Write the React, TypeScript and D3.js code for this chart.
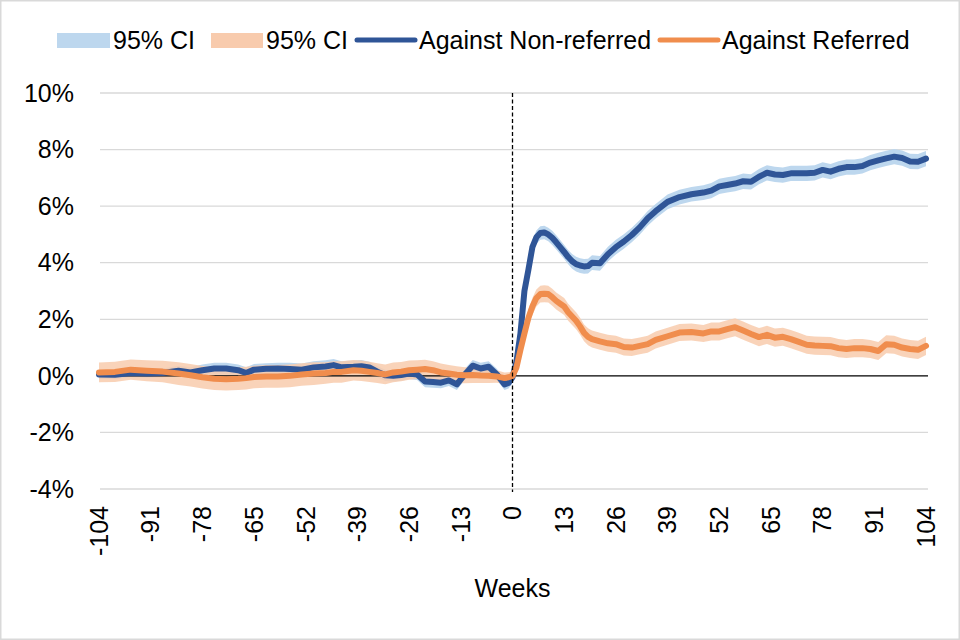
import React from "react";
import * as d3 from "d3";

const weeks = [
  -104, -100, -96, -92, -88, -84, -81, -78, -75, -72,
  -69, -67, -65, -62, -59, -56, -53, -50, -47, -45,
  -43, -40, -38, -36, -34, -32, -30, -28, -26, -24,
  -22, -20, -18, -16, -14, -12, -10, -8, -6, -4,
  -2, -1,
  0, 1, 2, 3, 4, 5, 6, 7, 8, 9, 10, 11, 12, 13, 14, 15, 16, 17, 18, 19, 20,
  22, 24, 26, 28, 30, 32, 34, 36,
  39, 42, 45, 48,
  50, 52, 54, 56, 58, 60, 62, 64, 66, 68,
  70, 72, 74, 76, 78, 80, 82, 84, 86, 88,
  90, 92, 94, 96, 98, 100, 102, 104,
];

const nonReferred = [
  0.05, 0.04, 0.1, 0.08, 0.1, 0.18, 0.12, 0.2, 0.26, 0.26,
  0.2, 0.1, 0.22, 0.25, 0.26, 0.24, 0.22, 0.3, 0.33, 0.38,
  0.3, 0.32, 0.34, 0.3, 0.15, 0.02, 0.0, 0.03, 0.08, 0.05,
  -0.2, -0.22, -0.24, -0.16, -0.3, 0.05, 0.36, 0.26, 0.32, 0.06,
  -0.3, -0.25,
  -0.05, 0.5, 1.5, 3.0, 3.75, 4.55, 4.9, 5.05, 5.07, 5.0, 4.88, 4.72, 4.55, 4.38, 4.2, 4.05, 3.95, 3.9, 3.87, 3.88, 4.0,
  3.98, 4.3, 4.55, 4.75, 4.98, 5.25, 5.57, 5.82,
  6.15, 6.32, 6.42, 6.48,
  6.55, 6.7, 6.75, 6.8, 6.88, 6.86, 7.04, 7.18, 7.12, 7.1,
  7.16, 7.16, 7.16, 7.18, 7.28, 7.22, 7.32, 7.38, 7.38, 7.42,
  7.54, 7.62, 7.69, 7.75, 7.7, 7.58, 7.57, 7.68,
];

const referred = [
  0.12, 0.14, 0.22, 0.18, 0.15, 0.08, 0.02, -0.05, -0.1, -0.12,
  -0.1, -0.08, -0.04, -0.02, -0.02, 0.0, 0.05, 0.08, 0.1, 0.14,
  0.14, 0.2, 0.18, 0.14, 0.1, 0.05, 0.12, 0.15, 0.2, 0.22,
  0.24, 0.2, 0.12, 0.08, 0.04, 0.02, 0.03, 0.01, 0.0, -0.02,
  -0.08, -0.05,
  0.0, 0.3, 0.92, 1.5, 2.05, 2.45, 2.75, 2.89, 2.9, 2.89, 2.78, 2.65, 2.55, 2.45, 2.25, 2.1, 1.95, 1.75, 1.52, 1.38, 1.3,
  1.22, 1.15, 1.12, 1.02, 1.0, 1.06, 1.12, 1.27,
  1.4, 1.53, 1.55, 1.5,
  1.57, 1.57, 1.65, 1.72, 1.6, 1.48, 1.37, 1.45, 1.35, 1.38,
  1.3, 1.2, 1.1, 1.07, 1.06, 1.05, 0.98, 0.95, 0.98, 0.98,
  0.95, 0.88, 1.12, 1.1, 1.0, 0.95, 0.92, 1.06,
];

const nonReferredCiHalf = [
  0.15, 0.15, 0.15, 0.15, 0.16, 0.18, 0.18, 0.2, 0.2, 0.2,
  0.2, 0.2, 0.2, 0.2, 0.2, 0.22, 0.22, 0.22, 0.22, 0.22,
  0.22, 0.22, 0.22, 0.2, 0.2, 0.2, 0.2, 0.2, 0.2, 0.2,
  0.2, 0.2, 0.2, 0.2, 0.2, 0.2, 0.2, 0.2, 0.2, 0.2,
  0.2, 0.2,
  0.2, 0.2, 0.22, 0.22, 0.22, 0.24, 0.24, 0.24, 0.24, 0.24, 0.25, 0.25, 0.25, 0.25, 0.25, 0.26, 0.26, 0.26, 0.26, 0.26, 0.26,
  0.26, 0.26, 0.26, 0.26, 0.26, 0.26, 0.26, 0.26,
  0.26, 0.26, 0.26, 0.26,
  0.27, 0.27, 0.27, 0.27, 0.27, 0.27, 0.27, 0.27, 0.27, 0.27,
  0.27, 0.27, 0.27, 0.27, 0.27, 0.27, 0.27, 0.27, 0.27, 0.27,
  0.27, 0.27, 0.27, 0.27, 0.27, 0.27, 0.27, 0.27,
];

const referredCiHalf = [
  0.35, 0.36, 0.36, 0.37, 0.38, 0.4, 0.4, 0.4, 0.4, 0.4,
  0.4, 0.4, 0.4, 0.4, 0.4, 0.4, 0.4, 0.4, 0.38, 0.38,
  0.38, 0.36, 0.36, 0.36, 0.35, 0.35, 0.35, 0.34, 0.34, 0.33,
  0.33, 0.32, 0.32, 0.3, 0.3, 0.28, 0.28, 0.26, 0.25, 0.22,
  0.2, 0.18,
  0.15, 0.2, 0.25, 0.28, 0.3, 0.3, 0.3, 0.3, 0.3, 0.3, 0.3, 0.3, 0.3, 0.3, 0.3, 0.3, 0.3, 0.3, 0.3, 0.3, 0.3,
  0.3, 0.3, 0.3, 0.3, 0.3, 0.3, 0.3, 0.3,
  0.3, 0.3, 0.3, 0.3,
  0.32, 0.32, 0.32, 0.32, 0.32, 0.32, 0.32, 0.32, 0.32, 0.32,
  0.32, 0.32, 0.32, 0.32, 0.32, 0.32, 0.32, 0.32, 0.32, 0.32,
  0.32, 0.32, 0.32, 0.32, 0.32, 0.32, 0.32, 0.32,
];

const xTicks = [-104, -91, -78, -65, -52, -39, -26, -13, 0, 13, 26, 39, 52, 65, 78, 91, 104];
const yTicks = [-4, -2, 0, 2, 4, 6, 8, 10];
const legendLabels = ["95% CI", "95% CI", "Against Non-referred", "Against Referred"];
const xTitle = "Weeks";

type Pt = { w: number; v: number; h: number };

export default function App() {
  const font = "'Liberation Sans', Arial, sans-serif";
  const fs = 25;
  const x = d3.scaleLinear().domain([-104, 104]).range([99, 926]);
  const y = d3.scaleLinear().domain([-4, 10]).range([489, 93]);

  const blue: Pt[] = weeks.map((w, i) => ({ w, v: nonReferred[i], h: nonReferredCiHalf[i] }));
  const orange: Pt[] = weeks.map((w, i) => ({ w, v: referred[i], h: referredCiHalf[i] }));

  const area = d3
    .area<Pt>()
    .x((d) => x(d.w))
    .y0((d) => y(d.v - d.h))
    .y1((d) => y(d.v + d.h));
  const line = d3
    .line<Pt>()
    .x((d) => x(d.w))
    .y((d) => y(d.v));

  const [x0, x1] = x.range();
  const blueLine = "#2F5597";
  const orangeLine = "#F08D4D";
  const blueBand = "#BDD7EE";
  const orangeBand = "#F8CBAD";

  const legendX = [57, 211, 357, 660];

  return (
    <svg
      width={960}
      height={640}
      style={{ position: "absolute", left: 0, top: 0 }}
      fontFamily={font}
    >
      <rect x={0.75} y={0.75} width={958.5} height={638.5} fill="#fff" stroke="#D9D9D9" strokeWidth={1.5} />

      {yTicks
        .filter((t) => t !== 0)
        .map((t) => (
          <line key={t} x1={x0 + 1} x2={x1 + 2} y1={y(t)} y2={y(t)} stroke="#D9D9D9" strokeWidth={1.3} />
        ))}

      <path d={area(blue) || ""} fill={blueBand} />
      <path d={area(orange) || ""} fill={orangeBand} fillOpacity={0.85} />

      <line x1={x0 + 1} x2={x1 + 2} y1={y(0)} y2={y(0)} stroke="#000" strokeWidth={1.3} />

      <path d={line(blue) || ""} fill="none" stroke={blueLine} strokeWidth={6} strokeLinejoin="round" strokeLinecap="round" />
      <path d={line(orange) || ""} fill="none" stroke={orangeLine} strokeWidth={6} strokeLinejoin="round" strokeLinecap="round" />

      <line x1={x(0)} x2={x(0)} y1={y(10)} y2={y(-4) + 3} stroke="#000" strokeWidth={1.3} strokeDasharray="4,2.5" />

      {yTicks.map((t) => (
        <text key={t} x={74} y={y(t)} dy="0.35em" textAnchor="end" fontSize={fs} fill="#000">
          {`${t}%`}
        </text>
      ))}

      {xTicks.map((t) => (
        <text
          key={t}
          transform={`translate(${x(t)},506) rotate(-90)`}
          dy="0.35em"
          textAnchor="end"
          fontSize={fs}
          fill="#000"
        >
          {`${t}`}
        </text>
      ))}

      <text x={x(0)} y={588} dy="0.35em" textAnchor="middle" fontSize={fs} fill="#000">
        {xTitle}
      </text>

      <g>
        <rect x={legendX[0]} y={33} width={53} height={15} fill={blueBand} />
        <text x={legendX[0] + 56} y={40} dy="0.35em" fontSize={fs}>{legendLabels[0]}</text>
        <rect x={legendX[1]} y={33} width={52} height={15} fill={orangeBand} />
        <text x={legendX[1] + 55} y={40} dy="0.35em" fontSize={fs}>{legendLabels[1]}</text>
        <line x1={legendX[2]} x2={legendX[2] + 58} y1={40} y2={40} stroke={blueLine} strokeWidth={5} strokeLinecap="round" />
        <text x={legendX[2] + 62} y={40} dy="0.35em" fontSize={fs}>{legendLabels[2]}</text>
        <line x1={legendX[3]} x2={legendX[3] + 58} y1={40} y2={40} stroke={orangeLine} strokeWidth={5} strokeLinecap="round" />
        <text x={legendX[3] + 62} y={40} dy="0.35em" fontSize={fs}>{legendLabels[3]}</text>
      </g>
    </svg>
  );
}
